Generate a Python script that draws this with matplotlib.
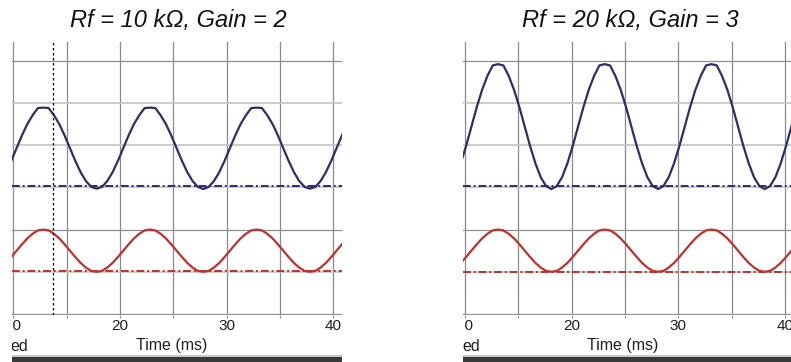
import numpy as np
import matplotlib.pyplot as plt
import matplotlib.transforms as mtransforms
from matplotlib.patches import Rectangle

# ── Data (logger traces, 0.5 ms sampling) ───────────────────────────────────
DT_MS = 0.5
T0_LEFT = 9.3     # first sample time, left graph (ms)
T0_RIGHT = 9.6    # first sample time, right graph (ms)

# Rf = 10 kOhm, Gain = 2   (arbitrary grid units: 1 unit = 1 grid division)
out_left = [3.36, 3.63, 3.93, 4.23, 4.50, 4.71, 4.88, 4.89, 4.88, 4.71,
            4.50, 4.23, 3.93, 3.63, 3.36, 3.15, 3.01, 2.97, 3.01, 3.15,
            3.36, 3.63, 3.93, 4.23, 4.50, 4.71, 4.88, 4.89, 4.88, 4.71,
            4.50, 4.23, 3.93, 3.63, 3.36, 3.15, 3.01, 2.96, 3.01, 3.15,
            3.36, 3.63, 3.93, 4.23, 4.50, 4.71, 4.88, 4.89, 4.88, 4.71,
            4.50, 4.23, 3.93, 3.63, 3.36, 3.15, 3.01, 2.97, 3.01, 3.15,
            3.36, 3.63, 3.93, 4.23, 4.50]
in_left = [1.21, 1.35, 1.50, 1.65, 1.79, 1.90, 1.98, 2.00, 1.98, 1.90,
           1.79, 1.65, 1.50, 1.35, 1.21, 1.10, 1.02, 1.00, 1.02, 1.10,
           1.21, 1.35, 1.50, 1.65, 1.79, 1.90, 1.98, 2.00, 1.98, 1.90,
           1.79, 1.65, 1.50, 1.35, 1.21, 1.10, 1.02, 1.00, 1.02, 1.10,
           1.21, 1.35, 1.50, 1.65, 1.79, 1.90, 1.98, 2.00, 1.98, 1.90,
           1.79, 1.65, 1.50, 1.35, 1.21, 1.10, 1.02, 1.00, 1.02, 1.10,
           1.21, 1.35, 1.50, 1.65, 1.79]

# Rf = 20 kOhm, Gain = 3
out_right = [3.57, 3.98, 4.44, 4.90, 5.31, 5.64, 5.89, 5.92, 5.89, 5.64,
             5.31, 4.90, 4.44, 3.98, 3.57, 3.24, 3.03, 2.96, 3.03, 3.24,
             3.57, 3.98, 4.44, 4.90, 5.31, 5.64, 5.89, 5.92, 5.89, 5.64,
             5.31, 4.90, 4.44, 3.98, 3.57, 3.24, 3.03, 2.96, 3.03, 3.24,
             3.57, 3.98, 4.44, 4.90, 5.31, 5.64, 5.89, 5.92, 5.89, 5.64,
             5.31, 4.90, 4.44, 3.98, 3.57, 3.24, 3.03, 2.96, 3.03, 3.24,
             3.57, 3.98, 4.44, 4.90]
in_right = [1.21, 1.35, 1.50, 1.65, 1.79, 1.90, 1.98, 2.00, 1.98, 1.90,
            1.79, 1.65, 1.50, 1.35, 1.21, 1.10, 1.02, 1.00, 1.02, 1.10,
            1.21, 1.35, 1.50, 1.65, 1.79, 1.90, 1.98, 2.00, 1.98, 1.90,
            1.79, 1.65, 1.50, 1.35, 1.21, 1.10, 1.02, 1.00, 1.02, 1.10,
            1.21, 1.35, 1.50, 1.65, 1.79, 1.90, 1.98, 2.00, 1.98, 1.90,
            1.79, 1.65, 1.50, 1.35, 1.21, 1.10, 1.02, 1.00, 1.02, 1.10,
            1.21, 1.35, 1.50, 1.65]

# zero (baseline) levels of each trace
base_out_left, base_in_left = 3.03, 1.02
base_out_right, base_in_right = 3.03, 1.00

titles = ['Rf = 10 k\u03a9, Gain = 2', 'Rf = 20 k\u03a9, Gain = 3']
cursor_left = 13.75   # examine cursor on left graph (ms)

x_ticks = [10, 20, 30, 40]
x_grid = [10, 15, 20, 25, 30, 35, 40]
y_grid_dark = [0, 2, 6]
y_grid_light = [1, 3, 4, 5]

# ── Styles ───────────────────────────────────────────────────────────────────
NAVY = '#2c2e6a'
RED = '#c0312e'
GRID_V = '#8a8a8a'
GRID_H_DARK = '#8f8f8f'
GRID_H_LIGHT = '#c4c4c4'
TXT = '#1e1e1e'
DASHDOT = (0, (4, 1.5, 1, 1.5))

plt.rcParams['font.family'] = ['Liberation Sans', 'DejaVu Sans']

W, H = 791, 362
fig = plt.figure(figsize=(W / 100, H / 100), dpi=100)

XLIM = (9.84, 40.78)
YLIM = (-0.02, 6.45)


def px_axes(left, top, width, height):
    return [left / W, 1 - (top + height) / H, width / W, height / H]


def fy(py):
    # pixel row from the top -> figure fraction
    return 1 - py / H


panels = [
    (11.7, out_left, in_left, T0_LEFT, base_out_left, base_in_left, titles[0], 178),
    (463.3, out_right, in_right, T0_RIGHT, base_out_right, base_in_right, titles[1], 630),
]

for i, (x0, y_out, y_in, t0, b_out, b_in, title, title_x) in enumerate(panels):
    ax = fig.add_axes(px_axes(x0, 41.8, 330, 273.0))
    ax.set_xlim(*XLIM)
    ax.set_ylim(*YLIM)
    for s in ax.spines.values():
        s.set_visible(False)
    ax.set_yticks([])
    ax.set_xticks(x_grid)
    ax.set_xticklabels([])
    ax.tick_params(axis='x', direction='out', length=2.3, width=0.8, color=GRID_V)

    for xv in x_grid:
        ax.axvline(xv, color=GRID_V, lw=0.9, zorder=1)
    for yv in y_grid_dark:
        ax.axhline(yv, color=GRID_H_DARK, lw=0.9, zorder=1)
    for yv in y_grid_light:
        ax.axhline(yv, color=GRID_H_LIGHT, lw=1.2, zorder=1)

    t_out = t0 + DT_MS * np.arange(len(y_out))
    t_in = t0 + DT_MS * np.arange(len(y_in))
    ax.axhline(b_out, color=NAVY, lw=1.4, ls=DASHDOT, zorder=2)
    ax.axhline(b_in, color=RED, lw=1.4, ls=DASHDOT, zorder=2)
    ax.plot(t_out, y_out, color=NAVY, lw=1.6, zorder=3)
    ax.plot(t_in, y_in, color=RED, lw=1.6, zorder=3)

    if i == 0:
        ax.axvline(cursor_left, color='black', lw=0.9, ls=(0, (2, 2)), zorder=4)

    # tick labels: x in data units, y in figure pixels
    tr = mtransforms.blended_transform_factory(ax.transData, fig.transFigure)
    for xt in x_ticks:
        ax.text(xt, fy(330.5), str(xt), transform=tr, ha='center',
                va='baseline', fontsize=11, color=TXT, clip_on=False)
    fig.text((x0 - 1.2) / W, fy(351), 'ed', ha='left', va='baseline',
             fontsize=11.5, color=TXT)
    fig.text((x0 + 159.5) / W, fy(350), 'Time (ms)', ha='center',
             va='baseline', fontsize=11.5, color=TXT)

    fig.text(title_x / W, fy(26.7), title, ha='center', va='baseline',
             fontsize=17, style='italic', color='#111111')

    # status bar below each graph
    fig.add_artist(Rectangle((x0 / W, fy(357)), 330 / W, 1.6 / H,
                             transform=fig.transFigure, color='#c8c8c8', lw=0))
    fig.add_artist(Rectangle((x0 / W, 0), 330 / W, 5.3 / H,
                             transform=fig.transFigure, color='#383838', lw=0))

# white margins that crop the window edges (as in the screenshot)
for mx0, mx1, top_px, bot_px in [(0, 11.7, 36, 362), (341.7, 463.3, 36, 362),
                                 (0, 13.0, 317, 337), (341.7, 464.6, 317, 337)]:
    fig.add_artist(Rectangle((mx0 / W, fy(bot_px)), (mx1 - mx0) / W,
                             (bot_px - top_px) / H, transform=fig.transFigure,
                             color='white', lw=0, zorder=5))

fig.savefig('out.png', dpi=100)
